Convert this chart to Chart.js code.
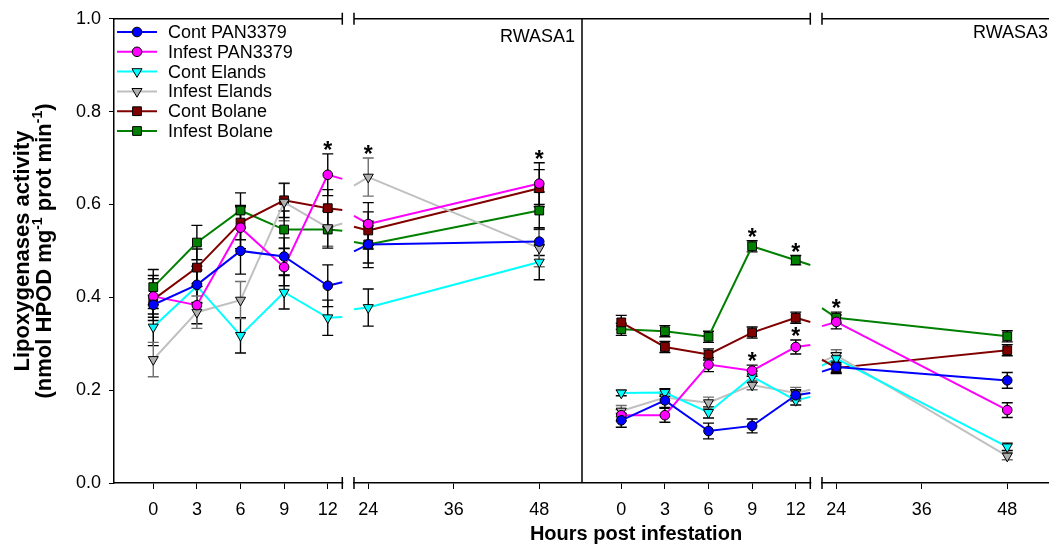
<!DOCTYPE html>
<html>
<head>
<meta charset="utf-8">
<script src="https://cdn.jsdelivr.net/npm/chart.js@4.4.0/dist/chart.umd.min.js"></script>
<style>
  html, body { margin: 0; padding: 0; overflow: hidden; background: #fff; }
  #wrap { width: 1060px; height: 548px; position: relative; }
</style>
</head>
<body>
<div id="wrap"><canvas id="chart"></canvas></div>
<script>
// sampling times (hours post infestation) and axis ticks
const hours = [0, 3, 6, 9, 12, 24, 48]
const xTickHours = [0, 3, 6, 9, 12, 24, 36, 48]
const panels = ['RWASA1', 'RWASA3']
const seriesNames = ['Cont PAN3379', 'Infest PAN3379', 'Cont Elands', 'Infest Elands', 'Cont Bolane', 'Infest Bolane']

// RWASA1 means
const contPanA1 = [0.384, 0.427, 0.500, 0.488, 0.425, 0.514, 0.520]
const infPanA1  = [0.402, 0.383, 0.550, 0.465, 0.664, 0.558, 0.645]
const contElaA1 = [0.336, 0.424, 0.318, 0.411, 0.356, 0.378, 0.476]
const infElaA1  = [0.266, 0.368, 0.394, 0.605, 0.550, 0.659, 0.506]
const contBolA1 = [0.395, 0.464, 0.561, 0.609, 0.592, 0.544, 0.635]
const infBolA1  = [0.422, 0.518, 0.587, 0.546, 0.546, 0.514, 0.587]

// RWASA1 standard errors
const contPanA1Err = [0.020, 0.040, 0.050, 0.040, 0.045, 0.040, 0.030]
const infPanA1Err  = [0.045, 0.040, 0.045, 0.040, 0.045, 0.046, 0.045]
const contElaA1Err = [0.040, 0.035, 0.038, 0.036, 0.038, 0.040, 0.038]
const infElaA1Err  = [0.037, 0.035, 0.040, 0.040, 0.040, 0.041, 0.040]
const contBolA1Err = [0.045, 0.040, 0.037, 0.037, 0.040, 0.040, 0.040]
const infBolA1Err  = [0.038, 0.037, 0.038, 0.040, 0.040, 0.050, 0.040]

// RWASA3 means
const contPanA3 = [0.135, 0.178, 0.112, 0.123, 0.189, 0.250, 0.221]
const infPanA3  = [0.146, 0.146, 0.255, 0.242, 0.293, 0.347, 0.157]
const contElaA3 = [0.194, 0.195, 0.152, 0.229, 0.178, 0.268, 0.078]
const infElaA3  = [0.155, 0.184, 0.173, 0.211, 0.194, 0.275, 0.058]
const contBolA3 = [0.346, 0.293, 0.277, 0.324, 0.356, 0.248, 0.286]
const infBolA3  = [0.331, 0.327, 0.315, 0.510, 0.480, 0.356, 0.316]

// RWASA3 standard errors
const contPanA3Err = [0.015, 0.015, 0.017, 0.015, 0.012, 0.012, 0.017]
const infPanA3Err  = [0.012, 0.015, 0.015, 0.012, 0.015, 0.015, 0.016]
const contElaA3Err = [0.006, 0.008, 0.012, 0.012, 0.010, 0.012, 0.008]
const infElaA3Err  = [0.012, 0.012, 0.012, 0.010, 0.012, 0.012, 0.008]
const contBolA3Err = [0.015, 0.012, 0.012, 0.012, 0.012, 0.012, 0.012]
const infBolA3Err  = [0.013, 0.012, 0.012, 0.012, 0.010, 0.012, 0.012]

// significance stars: [series index, hour]
const starsA1 = [[1, 12], [3, 24], [1, 48]]
const starsA3 = [[5, 9], [5, 12], [5, 24], [1, 9], [1, 12]]

const means = [
  [contPanA1, infPanA1, contElaA1, infElaA1, contBolA1, infBolA1],
  [contPanA3, infPanA3, contElaA3, infElaA3, contBolA3, infBolA3]
]
const errors = [
  [contPanA1Err, infPanA1Err, contElaA1Err, infElaA1Err, contBolA1Err, infBolA1Err],
  [contPanA3Err, infPanA3Err, contElaA3Err, infElaA3Err, contBolA3Err, infBolA3Err]
]
const stars = [starsA1, starsA3]

const styles = [
  { line: '#0000ff', fill: '#0000ff', point: 'circle', r: 4.8, rot: 0, err: '#000' },
  { line: '#ff00ff', fill: '#ff00ff', point: 'circle', r: 4.8, rot: 0, err: '#000' },
  { line: '#00ffff', fill: '#00ffff', point: 'triangle', r: 5.8, rot: 180, err: '#000' },
  { line: '#c0c0c0', fill: '#b0b0b0', point: 'triangle', r: 5.8, rot: 180, err: '#6e6e6e' },
  { line: '#800000', fill: '#800000', point: 'rect', r: 6.2, rot: 0, err: '#000' },
  { line: '#008000', fill: '#008000', point: 'rect', r: 6.2, rot: 0, err: '#000' }
]

// broken axis: each panel is 468 units wide, split into -2.7..13 h and 22..54 h
const PANEL_W = 468
const BREAK_LO = 13
const BREAK_HI = 22
function xPos(panel, h) {
  const base = panel * PANEL_W
  if (h <= BREAK_LO) return base + (h + 2.7) / 15.7 * 228.3
  return base + 240 + (h - BREAK_HI) / 32 * 228
}

const FONT = 'Liberation Sans, Arial, sans-serif'
Chart.defaults.font.family = FONT
Chart.defaults.color = '#000'

const datasets = seriesNames.map((name, s) => {
  const pts = []
  panels.forEach((_, p) => {
    hours.forEach((h, i) => {
      if (h === 24) pts.push({ x: xPos(p, 18), y: null })
      pts.push({ x: xPos(p, h), y: means[p][s][i] })
    })
    pts.push({ x: xPos(p, 52), y: null })
  })
  const st = styles[s]
  return {
    label: name,
    data: pts,
    borderColor: st.line,
    borderWidth: 2,
    backgroundColor: st.fill,
    pointBackgroundColor: st.fill,
    pointBorderColor: '#000',
    pointBorderWidth: 1,
    pointStyle: st.point,
    pointRadius: st.r,
    pointRotation: st.rot,
    spanGaps: false,
    tension: 0
  }
})

// error bars and the short line pieces running into the axis break
const underlayPlugin = {
  id: 'underlay',
  beforeDatasetsDraw(chart) {
    const { ctx, scales: { x, y } } = chart
    ctx.save()
    seriesNames.forEach((name, s) => {
      const st = styles[s]
      panels.forEach((_, p) => {
        const vals = means[p][s]
        const errs = errors[p][s]
        // line from 12 h to 24 h, cut by the break
        const v12 = vals[4], v24 = vals[5]
        const at = h => v12 + (v24 - v12) * (h - 12) / 12
        ctx.strokeStyle = st.line
        ctx.lineWidth = 2
        ctx.beginPath()
        ctx.moveTo(x.getPixelForValue(xPos(p, 12)), y.getPixelForValue(v12))
        ctx.lineTo(x.getPixelForValue(xPos(p, BREAK_LO)), y.getPixelForValue(at(BREAK_LO)))
        ctx.moveTo(x.getPixelForValue(xPos(p, BREAK_HI)), y.getPixelForValue(at(BREAK_HI)))
        ctx.lineTo(x.getPixelForValue(xPos(p, 24)), y.getPixelForValue(v24))
        ctx.stroke()
        // error bars
        ctx.strokeStyle = st.err
        ctx.lineWidth = 1.4
        hours.forEach((h, i) => {
          const px = x.getPixelForValue(xPos(p, h))
          const top = y.getPixelForValue(vals[i] + errs[i])
          const bot = y.getPixelForValue(vals[i] - errs[i])
          ctx.beginPath()
          ctx.moveTo(px, top); ctx.lineTo(px, bot)
          ctx.moveTo(px - 5.5, top); ctx.lineTo(px + 5.5, top)
          ctx.moveTo(px - 5.5, bot); ctx.lineTo(px + 5.5, bot)
          ctx.stroke()
        })
      })
    })
    ctx.restore()
  }
}

// frame with axis breaks, panel labels, stars, legend and axis titles
const overlayPlugin = {
  id: 'overlay',
  afterDraw(chart) {
    const { ctx, chartArea: area, scales: { x, y } } = chart
    ctx.save()
    ctx.strokeStyle = '#000'
    ctx.lineWidth = 1.5
    panels.forEach((label, p) => {
      const x0 = x.getPixelForValue(p * PANEL_W)
      const x1 = x.getPixelForValue((p + 1) * PANEL_W)
      const gL = x.getPixelForValue(xPos(p, BREAK_LO))
      const gR = x.getPixelForValue(xPos(p, BREAK_HI))
      // clear bottom axis in the break
      ctx.fillStyle = '#fff'
      ctx.fillRect(gL + 1, area.bottom - 3, gR - gL - 2, 6)
      ctx.beginPath()
      ctx.moveTo(x0, area.top); ctx.lineTo(gL, area.top)
      ctx.moveTo(gR, area.top); ctx.lineTo(x1, area.top)
      ;[area.top, area.bottom].forEach(yy => {
        ctx.moveTo(gL, yy - 6); ctx.lineTo(gL, yy + 6)
        ctx.moveTo(gR, yy - 6); ctx.lineTo(gR, yy + 6)
      })
      ctx.moveTo(x1, area.top); ctx.lineTo(x1, area.bottom)
      ctx.stroke()

      ctx.fillStyle = '#000'
      ctx.font = '18px ' + FONT
      ctx.textAlign = 'right'
      ctx.textBaseline = 'alphabetic'
      ctx.fillText(label, x1 - (p === 0 ? 7 : 2), area.top + (p === 0 ? 23 : 19))

      // stars
      ctx.font = 'bold 23px ' + FONT
      ctx.textAlign = 'center'
      stars[p].forEach(([s, h]) => {
        const i = hours.indexOf(h)
        const px = x.getPixelForValue(xPos(p, h))
        const py = y.getPixelForValue(means[p][s][i] + errors[p][s][i]) - 9
        ctx.fillText('*', px, py + 13)
      })
    })

    // legend
    ctx.font = '18px ' + FONT
    ctx.textAlign = 'left'
    ctx.textBaseline = 'middle'
    seriesNames.forEach((name, s) => {
      const st = styles[s]
      const ly = 32 + s * 19.8
      ctx.strokeStyle = st.line
      ctx.lineWidth = 2
      ctx.beginPath()
      ctx.moveTo(117, ly); ctx.lineTo(157, ly)
      ctx.stroke()
      ctx.fillStyle = st.fill
      ctx.strokeStyle = '#000'
      ctx.lineWidth = 1
      Chart.helpers.drawPoint(ctx, { pointStyle: st.point, radius: st.r, rotation: st.rot, borderWidth: 1 }, 137, ly)
      ctx.fillStyle = '#000'
      ctx.fillText(name, 168, ly + 1)
    })

    // axis titles
    ctx.font = 'bold 20px ' + FONT
    ctx.textAlign = 'center'
    ctx.textBaseline = 'alphabetic'
    ctx.fillText('Hours post infestation', 636, 540)

    ctx.translate(29, 251)
    ctx.rotate(-Math.PI / 2)
    ctx.font = 'bold 22px ' + FONT
    ctx.fillText('Lipoxygenases activity', 0, 0)
    const parts = [['(nmol HPOD mg', false], ['-1', true], [' prot min', false], ['-1', true], [')', false]]
    const fontFor = sup => sup ? 'bold 14px ' + FONT : 'bold 22px ' + FONT
    let total = 0
    parts.forEach(([t, sup]) => { ctx.font = fontFor(sup); total += ctx.measureText(t).width })
    let cx = -total / 2
    ctx.textAlign = 'left'
    parts.forEach(([t, sup]) => {
      ctx.font = fontFor(sup)
      ctx.fillText(t, cx, sup ? 13 : 22)
      cx += ctx.measureText(t).width
    })
    ctx.restore()
  }
}

new Chart(document.getElementById('chart'), {
  type: 'line',
  data: { datasets },
  options: {
    responsive: true,
    maintainAspectRatio: false,
    animation: false,
    layout: { padding: { left: 0, top: 18, right: 10, bottom: 0 } },
    plugins: { legend: { display: false }, tooltip: { enabled: false } },
    scales: {
      x: {
        type: 'linear',
        min: 0,
        max: 2 * PANEL_W,
        afterBuildTicks: scale => {
          scale.ticks = panels.flatMap((_, p) => xTickHours.map(h => ({ value: xPos(p, h) })))
        },
        afterFit: scale => { scale.height = 65 },
        ticks: {
          autoSkip: false,
          maxRotation: 0,
          minRotation: 0,
          padding: 10,
          font: { size: 18 },
          callback: (value, index) => xTickHours[index % xTickHours.length]
        },
        grid: { drawOnChartArea: false, drawTicks: true, tickLength: 6, color: '#000' },
        border: { display: true, color: '#000', width: 1.5 }
      },
      y: {
        min: 0,
        max: 1,
        afterFit: scale => { scale.width = 114 },
        ticks: {
          stepSize: 0.2,
          padding: 8,
          font: { size: 18 },
          callback: v => v.toFixed(1)
        },
        grid: { drawOnChartArea: false, drawTicks: true, tickLength: 5, color: '#000' },
        border: { display: true, color: '#000', width: 1.5 }
      }
    }
  },
  plugins: [underlayPlugin, overlayPlugin]
})
</script>
</body>
</html>
